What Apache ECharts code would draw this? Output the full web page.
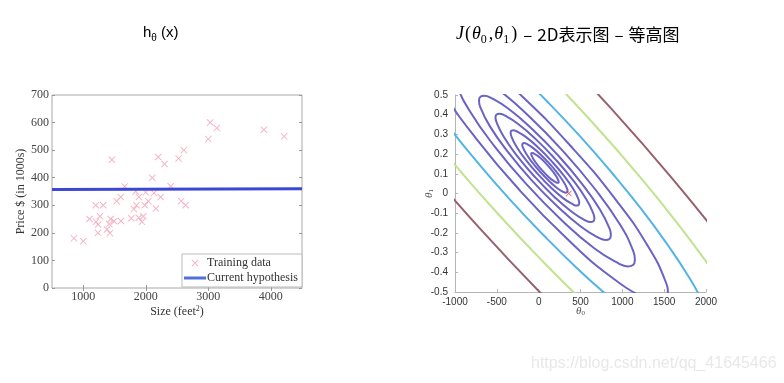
<!DOCTYPE html>
<html>
<head>
<meta charset="utf-8">
<script src="https://cdn.jsdelivr.net/npm/echarts@6/dist/echarts.min.js"></script>
<style>
html,body{margin:0;padding:0;background:#fff;}
#c{width:784px;height:383px;}
</style>
</head>
<body>
<div id="c"></div>
<script>
// ---------- Left chart data: housing training set ----------
const sizes = [2104,1600,2400,1416,3000,1985,1534,1427,1380,1494,1940,2000,1890,1268,2300,1320,1236,2609,3031,1767,1888,1604,1962,3890,1100,1458,2526,2200,2637,1839,1000,2040,3137,1811,1437,1239,2132,4215,2162,1664,2238,2567,1200,852,1852,1203];
const prices = [400,330,369,232,540,300,315,199,212,242,240,347,330,260,450,300,200,500,600,253,255,243,260,574,250,465,470,475,300,350,170,315,580,286,250,230,345,550,288,368,330,315,300,180,300,240];
const hypoX = [500, 4500];
const hypoY = [357, 360];
const sizeTicks = [1000, 2000, 3000, 4000];

// ---------- Right chart data: contour lines of J(theta0, theta1) ----------
const ring1 = [[42,0.117],[-17,0.147],[-62,0.174],[-86,0.195],[-89,0.201],[-86,0.205],[-76,0.206],[-61,0.204],[-15,0.192],[44,0.171],[108,0.143],[167,0.113],[212,0.086],[236,0.065],[239,0.059],[236,0.055],[226,0.054],[211,0.056],[165,0.068],[106,0.089],[42,0.117]];
const ring2 = [[20,0.109],[-77,0.158],[-151,0.203],[-191,0.237],[-196,0.248],[-190,0.254],[-174,0.256],[-149,0.253],[-73,0.233],[25,0.197],[130,0.151],[227,0.102],[301,0.057],[341,0.023],[346,0.012],[340,0.006],[324,0.004],[299,0.007],[223,0.027],[126,0.063],[20,0.109]];
const ring3 = [[-9,0.098],[-156,0.172],[-268,0.240],[-328,0.292],[-335,0.308],[-327,0.318],[-303,0.321],[-264,0.316],[-150,0.286],[-2,0.232],[159,0.162],[306,0.088],[418,0.020],[478,-0.032],[485,-0.048],[477,-0.058],[453,-0.061],[414,-0.056],[300,-0.026],[152,0.028],[-9,0.098]];
const ring4 = [[-45,0.084],[-258,0.191],[-419,0.289],[-505,0.363],[-516,0.387],[-503,0.401],[-469,0.405],[-413,0.398],[-249,0.354],[-35,0.276],[195,0.176],[408,0.069],[569,-0.029],[655,-0.103],[666,-0.127],[653,-0.141],[619,-0.145],[563,-0.138],[399,-0.094],[185,-0.016],[-45,0.084]];
const ring5 = [[-85,0.068],[-368,0.211],[-584,0.342],[-699,0.440],[-713,0.472],[-696,0.491],[-650,0.496],[-576,0.487],[-357,0.429],[-72,0.325],[235,0.192],[518,0.049],[734,-0.082],[849,-0.180],[863,-0.212],[846,-0.231],[800,-0.236],[726,-0.227],[507,-0.169],[222,-0.065],[-85,0.068]];
const ring6 = [[-144,0.046],[-530,0.241],[-824,0.419],[-981,0.553],[-1000,0.597],[-977,0.623],[-914,0.630],[-813,0.617],[-514,0.538],[-125,0.396],[294,0.214],[680,0.019],[974,-0.159],[1131,-0.293],[1150,-0.337],[1127,-0.363],[1064,-0.370],[963,-0.357],[664,-0.278],[275,-0.136],[-144,0.046]];
const ring7 = [[-224,0.015],[-752,0.281],[-1153,0.525],[-1368,0.708],[-1394,0.768],[-1363,0.803],[-1277,0.813],[-1139,0.796],[-730,0.688],[-199,0.494],[374,0.245],[902,-0.021],[1303,-0.265],[1518,-0.448],[1544,-0.508],[1513,-0.543],[1427,-0.553],[1289,-0.536],[880,-0.428],[349,-0.234],[-224,0.015]];
const blueLower = [[-1388,0.519],[-1080,0.341],[-727,0.156],[-343,-0.031],[57,-0.211],[458,-0.379],[844,-0.526],[1200,-0.649]];
const blueUpper = [[-1050,0.909],[-694,0.786],[-308,0.639],[93,0.471],[493,0.291],[877,0.104],[1230,-0.081],[1538,-0.259],[1791,-0.421],[1977,-0.563],[2090,-0.677]];
const greenLower = [[-1532,0.424],[-1041,0.166],[-507,-0.094],[50,-0.345],[607,-0.578]];
const greenUpper = [[-457,0.838],[100,0.605],[657,0.354],[1191,0.094],[1682,-0.164],[2112,-0.411]];
const brownLower = [[-2100,0.528],[-1435,0.179],[-712,-0.173],[41,-0.513]];
const brownUpper = [[109,0.773],[862,0.433],[1585,0.082],[2250,-0.268]];
const minPoint = [[360, 0]];

const purpleRings = [ring1, ring2, ring3, ring4, ring5, ring6, ring7];

const xPath = 'path://M0,1 L1,0 L5,4 L9,0 L10,1 L6,5 L10,9 L9,10 L5,6 L1,10 L0,9 L4,5 Z';
const barPath = 'path://M0,0 L22,0 L22,3 L0,3 Z';
const serif = 'Liberation Serif';
const sans = 'Liberation Sans';

const C_PURPLE = '#6a63c6';
const C_BLUE = '#52b4e4';
const C_GREEN = '#bfe38e';
const C_BROWN = '#98606c';

function contour(data, color, name) {
  return {
    type: 'line', name: name, xAxisIndex: 2, yAxisIndex: 2,
    data: data, smooth: 0.5, symbol: 'none', showSymbol: false,
    clip: true, silent: true,
    lineStyle: { color: color, width: 2 }
  };
}

const series = [
  {
    type: 'scatter', name: 'Training data', xAxisIndex: 0, yAxisIndex: 0,
    data: sizes.map((s, i) => [s, prices[i]]),
    symbol: xPath, symbolSize: 7,
    itemStyle: { color: '#f2a2b6' }
  },
  {
    type: 'line', name: 'Current hypothesis', xAxisIndex: 0, yAxisIndex: 0,
    data: hypoX.map((x, i) => [x, hypoY[i]]),
    symbol: 'none', showSymbol: false,
    lineStyle: { color: '#3c47d6', width: 3 }, z: 3
  }
];
purpleRings.forEach((r, i) => series.push(contour(r, C_PURPLE, 'p' + i)));
series.push(contour(blueLower, C_BLUE, 'b1'));
series.push(contour(blueUpper, C_BLUE, 'b2'));
series.push(contour(greenLower, C_GREEN, 'g1'));
series.push(contour(greenUpper, C_GREEN, 'g2'));
series.push(contour(brownLower, C_BROWN, 'r1'));
series.push(contour(brownUpper, C_BROWN, 'r2'));
series.push({
  type: 'scatter', name: 'min', xAxisIndex: 2, yAxisIndex: 2,
  data: minPoint, symbol: xPath, symbolSize: 6,
  itemStyle: { color: '#e8333f' }, z: 5
});

const plain = v => String(v);
const leftLabel = { color: '#444', fontFamily: serif, fontSize: 12, formatter: plain };
const rightLabel = { color: '#333', fontFamily: sans, fontSize: 10, formatter: plain };

const option = {
  animation: false,
  backgroundColor: '#ffffff',
  title: [
    {
      text: '{a|h}{s|θ}{a| (x)}',
      left: 143, top: 20, padding: 0,
      textStyle: {
        fontWeight: 'normal',
        rich: {
          a: { fontFamily: sans, fontSize: 15, fontWeight: 'normal', color: '#000', lineHeight: 20, verticalAlign: 'bottom' },
          s: { fontFamily: sans, fontSize: 10, fontWeight: 'normal', color: '#000', lineHeight: 20, verticalAlign: 'bottom', padding: [0, 0, -3, 0] }
        }
      }
    },
    {
      text: '{j|J}{n|(}{j|θ}{s|0}{n|,}{j|θ}{s|1}{n|)}{d|–}{c|2D表示图}{d|–}{c|等高图}',
      left: 456, top: 21, padding: 0,
      textStyle: {
        fontWeight: 'normal',
        rich: {
          j: { fontFamily: serif, fontStyle: 'italic', fontWeight: 'normal', fontSize: 18, color: '#000', lineHeight: 22, verticalAlign: 'bottom' },
          n: { fontFamily: serif, fontWeight: 'normal', fontSize: 18, color: '#000', lineHeight: 22, verticalAlign: 'bottom', padding: [0, 1, 0, 1] },
          s: { fontFamily: serif, fontWeight: 'normal', fontSize: 12, color: '#000', lineHeight: 22, verticalAlign: 'bottom', padding: [0, 1, -3, 0] },
          d: { fontFamily: 'Noto Sans CJK SC', fontWeight: 'normal', fontSize: 17, color: '#000', lineHeight: 22, verticalAlign: 'bottom', padding: [0, 5, 0, 5] },
          c: { fontFamily: 'Noto Sans CJK SC', fontWeight: 'normal', fontSize: 17, color: '#000', lineHeight: 22, verticalAlign: 'bottom' }
        }
      }
    }
  ],
  legend: {
    data: [{ name: 'Training data', icon: xPath }, { name: 'Current hypothesis', icon: barPath }],
    orient: 'vertical',
    left: 182, top: 254,
    itemWidth: 22, itemHeight: 7, itemGap: 3,
    padding: [3, 4, 3, 2],
    borderColor: '#bbbbbb', borderWidth: 1,
    backgroundColor: '#ffffff',
    selectedMode: false,
    textStyle: { fontFamily: serif, fontSize: 12, color: '#333', padding: [0, 0, 0, -4] }
  },
  grid: [
    { left: 52, top: 95, width: 250, height: 193, show: true, borderColor: '#a8a8a8', borderWidth: 1, backgroundColor: '#fff', outerBoundsMode: 'none' },
    { left: 455, top: 95, width: 251, height: 197, show: false, outerBoundsMode: 'none' }
  ],
  xAxis: [
    {
      gridIndex: 0, type: 'value', min: 500, max: 4500,
      axisLine: { show: false },
      axisTick: { show: true, inside: true, length: 3, customValues: sizeTicks, lineStyle: { color: '#999' } },
      axisLabel: Object.assign({ margin: 3, customValues: sizeTicks }, leftLabel),
      splitLine: { show: false },
      name: 'Size (feet{sup|2})', nameLocation: 'middle', nameGap: 17, nameMoveOverlap: false,
      nameTextStyle: {
        fontFamily: serif, fontSize: 12, color: '#333',
        rich: { sup: { fontFamily: serif, fontSize: 8, color: '#333', verticalAlign: 'top', padding: [0, 0, 6, 0] } }
      }
    },
    {
      gridIndex: 0, type: 'value', min: 500, max: 4500, position: 'top',
      axisLine: { show: false },
      axisTick: { show: true, inside: true, length: 3, customValues: sizeTicks, lineStyle: { color: '#999' } },
      axisLabel: { show: false }, splitLine: { show: false }
    },
    {
      gridIndex: 1, type: 'value', min: -1000, max: 2000, interval: 500,
      axisLine: { show: true, onZero: false, lineStyle: { color: '#b5b5b5', width: 1 } },
      axisTick: { show: true, inside: true, length: 3, lineStyle: { color: '#b5b5b5' } },
      axisLabel: Object.assign({ margin: 5 }, rightLabel),
      splitLine: { show: false },
      name: '{t|θ}{s|0}', nameLocation: 'middle', nameGap: 14, nameMoveOverlap: false,
      nameTextStyle: {
        rich: {
          t: { fontFamily: serif, fontStyle: 'italic', fontSize: 11, color: '#555' },
          s: { fontFamily: serif, fontSize: 7, color: '#555', verticalAlign: 'bottom' }
        }
      }
    }
  ],
  yAxis: [
    {
      gridIndex: 0, type: 'value', min: 0, max: 700, interval: 100,
      axisLine: { show: false },
      axisTick: { show: true, inside: true, length: 3, lineStyle: { color: '#999' } },
      axisLabel: Object.assign({ margin: 3 }, leftLabel),
      splitLine: { show: false },
      name: 'Price $ (in 1000s)', nameLocation: 'middle', nameGap: 24, nameRotate: 90,
      nameTextStyle: { fontFamily: serif, fontSize: 12, color: '#333' }
    },
    {
      gridIndex: 0, type: 'value', min: 0, max: 700, interval: 100, position: 'right',
      axisLine: { show: false },
      axisTick: { show: true, inside: true, length: 3, lineStyle: { color: '#999' } },
      axisLabel: { show: false }, splitLine: { show: false }
    },
    {
      gridIndex: 1, type: 'value', min: -0.5, max: 0.5, interval: 0.1,
      axisLine: { show: true, onZero: false, lineStyle: { color: '#b5b5b5', width: 1 } },
      axisTick: { show: true, inside: true, length: 3, lineStyle: { color: '#b5b5b5' } },
      axisLabel: Object.assign({ margin: 7 }, rightLabel),
      splitLine: { show: false },
      name: '{t|θ}{s|1}', nameLocation: 'middle', nameGap: 20, nameRotate: 90, nameMoveOverlap: false,
      nameTextStyle: {
        rich: {
          t: { fontFamily: serif, fontStyle: 'italic', fontSize: 11, color: '#555' },
          s: { fontFamily: serif, fontSize: 7, color: '#555', verticalAlign: 'bottom' }
        }
      }
    }
  ],
  graphic: [
    {
      type: 'text', left: 531, top: 356, silent: true,
      style: { text: 'https://blog.csdn.net/qq_41645466', fill: '#e8e8e8', font: '16px "Liberation Sans"' }
    }
  ],
  series: series
};

const chart = echarts.init(document.getElementById('c'), null, { renderer: 'canvas' });
chart.setOption(option);
</script>
</body>
</html>
